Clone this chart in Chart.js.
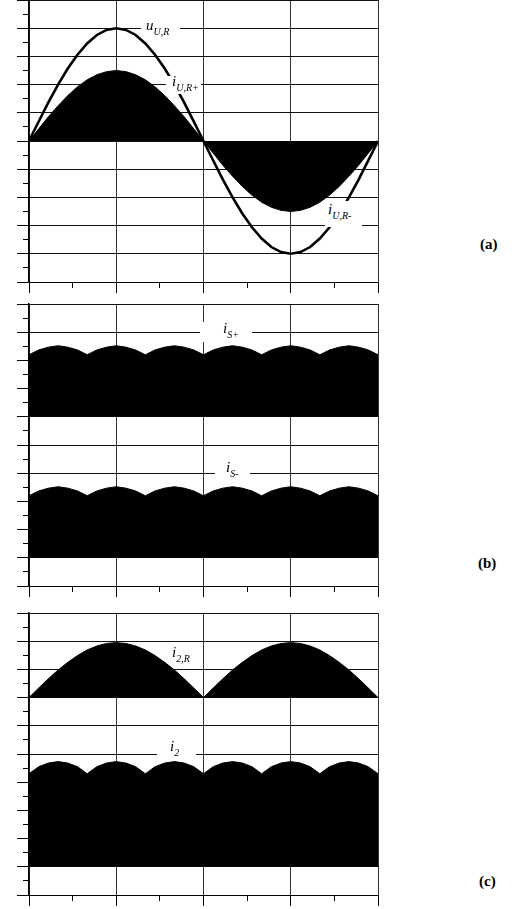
<!DOCTYPE html>
<html>
<head>
<meta charset="utf-8">
<script src="https://cdn.jsdelivr.net/npm/chart.js@4.4.1/dist/chart.umd.min.js"></script>
<style>
  html, body { margin: 0; padding: 0; background: #fff; }
  #page  { position: relative; width: 531px; height: 909px; overflow: hidden; }
  canvas { position: absolute; left: 0; }
  .mask  { position: absolute; background: #fff; }
  .lbl   { position: absolute; font: italic 15px/1 "Liberation Serif", "Times New Roman", serif; color: #000; white-space: nowrap; }
  .lbl sub { font-size: 10px; vertical-align: -5px; line-height: 0; }
  .tag   { position: absolute; font: bold 15px/1 "Liberation Serif", "Times New Roman", serif; color: #000; }
</style>
</head>
<body>
<div id="page">
  <canvas id="chart-a" width="400" height="297" style="top:0"></canvas>
  <canvas id="chart-b" width="400" height="303" style="top:298px"></canvas>
  <canvas id="chart-c" width="400" height="303" style="top:607px"></canvas>
</div>

<script>
"use strict";

// ─── Data (angle in degrees, values in grid units) ─────────────────────────
const THETA = [0, 10, 20, 30, 40, 50, 60, 70, 80, 90, 100, 110, 120, 130, 140, 150, 160, 170, 180,
               190, 200, 210, 220, 230, 240, 250, 260, 270, 280, 290, 300, 310, 320, 330, 340, 350, 360];

const X_TICKS = [0, 45, 90, 135, 180, 225, 270, 315, 360];
const Y_TICKS = [-5, -4.5, -4, -3.5, -3, -2.5, -2, -1.5, -1, -0.5, 0, 0.5, 1, 1.5, 2, 2.5, 3, 3.5, 4, 4.5, 5];

// (a) supply voltage and half-wave currents
const U_UR = [0, 0.69, 1.37, 2.0, 2.57, 3.06, 3.46, 3.76, 3.94, 4.0, 3.94, 3.76, 3.46, 3.06, 2.57, 2.0, 1.37, 0.69, 0,
              -0.69, -1.37, -2.0, -2.57, -3.06, -3.46, -3.76, -3.94, -4.0, -3.94, -3.76, -3.46, -3.06, -2.57, -2.0, -1.37, -0.69, 0];
const I_UR_POS = [0, 0.43, 0.86, 1.25, 1.61, 1.92, 2.17, 2.35, 2.46, 2.5, 2.46, 2.35, 2.17, 1.92, 1.61, 1.25, 0.86, 0.43, 0];
const I_UR_NEG = [0, -0.43, -0.86, -1.25, -1.61, -1.92, -2.17, -2.35, -2.46, -2.5, -2.46, -2.35, -2.17, -1.92, -1.61, -1.25, -0.86, -0.43, 0];

// (b) six-pulse source currents
const I_S_POS = [2.2, 2.37, 2.47, 2.52, 2.47, 2.37, 2.2, 2.37, 2.47, 2.52, 2.47, 2.37, 2.2, 2.37, 2.47, 2.52, 2.47, 2.37,
                 2.2, 2.37, 2.47, 2.52, 2.47, 2.37, 2.2, 2.37, 2.47, 2.52, 2.47, 2.37, 2.2, 2.37, 2.47, 2.52, 2.47, 2.37, 2.2];
const I_S_NEG = [2.2, 2.37, 2.47, 2.52, 2.47, 2.37, 2.2, 2.37, 2.47, 2.52, 2.47, 2.37, 2.2, 2.37, 2.47, 2.52, 2.47, 2.37,
                 2.2, 2.37, 2.47, 2.52, 2.47, 2.37, 2.2, 2.37, 2.47, 2.52, 2.47, 2.37, 2.2, 2.37, 2.47, 2.52, 2.47, 2.37, 2.2];

// (c) rectified phase current and output current
const I_2R = [0, 0.34, 0.67, 0.98, 1.25, 1.49, 1.69, 1.83, 1.92, 1.95, 1.92, 1.83, 1.69, 1.49, 1.25, 0.98, 0.67, 0.34, 0,
              0.34, 0.67, 0.98, 1.25, 1.49, 1.69, 1.83, 1.92, 1.95, 1.92, 1.83, 1.69, 1.49, 1.25, 0.98, 0.67, 0.34, 0];
const I_2 = [3.3, 3.55, 3.68, 3.73, 3.68, 3.55, 3.3, 3.55, 3.68, 3.73, 3.68, 3.55, 3.3, 3.55, 3.68, 3.73, 3.68, 3.55,
             3.3, 3.55, 3.68, 3.73, 3.68, 3.55, 3.3, 3.55, 3.68, 3.73, 3.68, 3.55, 3.3, 3.55, 3.68, 3.73, 3.68, 3.55, 3.3];

// baselines the stacked traces sit on
const BASE_S_POS = 1;
const BASE_S_NEG = -4;
const BASE_2R    = 2;
const BASE_2     = -4;

// ─── Helpers ───────────────────────────────────────────────────────────────
const pts = (xs, ys, base = 0) => xs.map((x, i) => ({ x, y: ys[i] + base }));

const isMajorX = c => c.tick && c.tick.value % 90 === 0;
const isMajorY = c => c.tick && Number.isInteger(c.tick.value);

function area(data, base) {
  return {
    data,
    fill: { value: base },
    backgroundColor: "#000",
    borderColor: "#000",
    borderWidth: 1,
  };
}

function makeChart(id, datasets, padTop, padBottom) {
  const ctx = document.getElementById(id).getContext("2d");
  return new Chart(ctx, {
    type: "line",
    data: { datasets },
    options: {
      responsive: false,
      animation: false,
      devicePixelRatio: 1,
      layout: { padding: { left: 17, right: 22, top: padTop, bottom: padBottom } },
      plugins: { legend: { display: false }, tooltip: { enabled: false } },
      elements: { point: { radius: 0 }, line: { tension: 0 } },
      scales: {
        x: {
          type: "linear", min: 0, max: 360,
          afterBuildTicks: s => { s.ticks = X_TICKS.map(v => ({ value: v })); },
          ticks: { display: false },
          grid: {
            color: c => isMajorX(c) ? "#333" : "rgba(0,0,0,0)",
            tickColor: "#000",
            tickLength: 11,
            tickBorderDash: c => isMajorX(c) ? [] : [5, 100],
          },
          border: { color: "#000", width: 1 },
        },
        y: {
          type: "linear", min: -5, max: 5,
          afterBuildTicks: s => { s.ticks = Y_TICKS.map(v => ({ value: v })); },
          ticks: { display: false },
          grid: {
            color: c => isMajorY(c) ? "#111" : "rgba(0,0,0,0)",
            tickColor: "#000",
            tickLength: 12,
            tickBorderDash: c => isMajorY(c) ? [] : [0, 6, 100],
          },
          border: { color: "#000", width: 1.5 },
        },
      },
    },
  });
}

// ─── Panels ────────────────────────────────────────────────────────────────
makeChart("chart-a", [
  { data: pts(THETA, U_UR), borderColor: "#000", borderWidth: 2.6, fill: false },
  area(pts(THETA.slice(0, 19), I_UR_POS), 0),
  area(pts(THETA.slice(18), I_UR_NEG), 0),
], 0, 4);

makeChart("chart-b", [
  area(pts(THETA, I_S_POS, BASE_S_POS), BASE_S_POS),
  area(pts(THETA, I_S_NEG, BASE_S_NEG), BASE_S_NEG),
], 6, 4);

makeChart("chart-c", [
  area(pts(THETA, I_2R, BASE_2R), BASE_2R),
  area(pts(THETA, I_2, BASE_2), BASE_2),
], 6, 4);

// ─── Labels (white masks break the grid lines behind them) ─────────────────
const page = document.getElementById("page");

const MASKS = [
  [141, 19, 39, 15],
  [166, 76, 35, 18],
  [325, 201, 37, 26],
  [200, 322, 52, 20],
  [215, 462, 35, 21],
  [157, 745, 39, 15],
];
MASKS.forEach(([x, y, w, h]) => {
  const m = document.createElement("div");
  m.className = "mask";
  Object.assign(m.style, { left: x + "px", top: y + "px", width: w + "px", height: h + "px" });
  page.appendChild(m);
});

const LABELS = [
  ["u", "U,R",  146, 18],
  ["i", "U,R+", 172, 74],
  ["i", "U,R-", 328, 202],
  ["i", "S+",   223, 321],
  ["i", "S-",   226, 460],
  ["i", "2,R",  172, 645],
  ["i", "2",    170, 739],
];
LABELS.forEach(([main, sub, x, y]) => {
  const el = document.createElement("div");
  el.className = "lbl";
  el.style.left = x + "px";
  el.style.top  = y + "px";
  el.innerHTML = `${main}<sub>${sub}</sub>`;
  page.appendChild(el);
});

const TAGS = [["(a)", 480, 237], ["(b)", 478, 556], ["(c)", 479, 874]];
TAGS.forEach(([t, x, y]) => {
  const el = document.createElement("div");
  el.className = "tag";
  el.style.left = x + "px";
  el.style.top  = y + "px";
  el.textContent = t;
  page.appendChild(el);
});
</script>
</body>
</html>
